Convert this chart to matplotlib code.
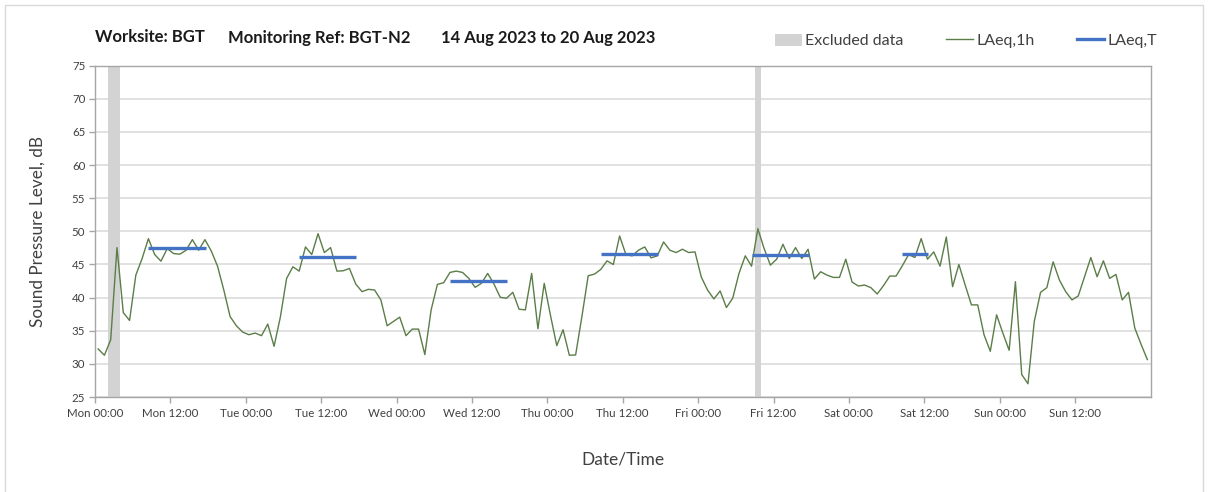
import matplotlib
matplotlib.use("Agg")
import matplotlib.pyplot as plt
from matplotlib.patches import Rectangle, Patch
from matplotlib.lines import Line2D
import numpy as np

plt.rcParams['font.family'] = ['Lato', 'DejaVu Sans']

# ---- data ----
laeq_1h = [
    # Mon
    32.25, 31.3, 33.65, 47.55, 37.75, 36.55, 43.4, 45.9, 48.9, 46.5, 45.5, 47.4,
    46.65, 46.55, 47.15, 48.75, 47.15, 48.75, 47.05, 44.75, 41.15, 37.15, 35.75, 34.8,
    # Tue
    34.4, 34.65, 34.25, 36.0, 32.65, 37.05, 42.9, 44.65, 44.0, 47.65, 46.5, 49.65,
    46.8, 47.55, 44.0, 44.05, 44.4, 42.05, 40.9, 41.25, 41.15, 39.65, 35.75, 36.4,
    # Wed
    37.05, 34.25, 35.25, 35.25, 31.4, 38.15, 42.0, 42.25, 43.8, 44.0, 43.8, 42.9,
    41.55, 42.15, 43.65, 42.05, 40.05, 39.9, 40.8, 38.25, 38.15, 43.65, 35.3, 42.15,
    # Thu
    37.3, 32.75, 35.15, 31.3, 31.35, 37.15, 43.3, 43.55, 44.25, 45.55, 45.0, 49.3,
    46.5, 46.3, 47.15, 47.65, 46.0, 46.3, 48.4, 47.15, 46.8, 47.3, 46.8, 46.9,
    # Fri
    43.1, 41.15, 39.8, 41.0, 38.5, 39.9, 43.65, 46.3, 44.75, 50.4, 47.4, 44.9,
    45.8, 48.05, 45.9, 47.55, 45.9, 47.3, 42.8, 43.9, 43.4, 43.05, 43.05, 45.8,
    # Sat
    42.35, 41.75, 41.9, 41.5, 40.55, 41.8, 43.25, 43.25, 44.8, 46.5, 46.05, 48.9,
    45.8, 46.9, 44.75, 49.15, 41.65, 45.0, 41.9, 38.9, 38.9, 34.4, 31.9, 37.4,
    # Sun
    34.65, 32.05, 42.4, 28.4, 27.0, 36.4, 40.8, 41.5, 45.4, 42.65, 40.9, 39.65,
    40.25, 43.15, 46.05, 43.15, 45.55, 42.9, 43.5, 39.65, 40.8, 35.4, 32.95, 30.65,
]
hours = list(range(len(laeq_1h)))

period_start = [8, 32, 56, 80, 104, 128]
period_end = [17, 41, 65, 89, 113, 132]
period_level = [47.55, 46.15, 42.55, 46.65, 46.5, 46.65]

excl_start = [2, 105]
excl_end = [4, 106]

tick_hours = [0, 12, 24, 36, 48, 60, 72, 84, 96, 108, 120, 132, 144, 156]
tick_labels = ["Mon 00:00", "Mon 12:00", "Tue 00:00", "Tue 12:00", "Wed 00:00",
               "Wed 12:00", "Thu 00:00", "Thu 12:00", "Fri 00:00", "Fri 12:00",
               "Sat 00:00", "Sat 12:00", "Sun 00:00", "Sun 12:00"]

# ---- style ----
W, H = 1208, 492
fig = plt.figure(figsize=(W / 100, H / 100), dpi=100)
ax = fig.add_axes([95 / W, 1 - 397 / H, (1150.5 - 95) / W, (397 - 65.7) / H])

text_col = "#404040"
grid_col = "#d9d9d9"
spine_col = "#a6a6a6"
green = "#5b7d48"
blue = "#4472c4"
excl_col = "#d3d3d3"

# excluded data bands
for s, e in zip(excl_start, excl_end):
    ax.axvspan(s, e, color=excl_col, lw=0, zorder=1)

# hourly line (points at category centres)
x = np.array(hours) + 0.5
ax.plot(x, laeq_1h, color=green, lw=1.0, zorder=3)

# period LAeq,T
for s, e, v in zip(period_start, period_end, period_level):
    ax.plot([s + 0.5, e + 0.6], [v, v], color=blue, lw=2.4,
            solid_capstyle='butt', zorder=4)

ax.set_xlim(0, 168)
ax.set_ylim(25, 75)
ax.set_yticks(range(25, 80, 5))
ax.set_xticks(tick_hours)
ax.set_xticklabels(tick_labels)
ax.set_xticks(range(24, 168, 24), minor=True)

ax.grid(axis='y', which='major', color=grid_col, lw=1.1, zorder=0)
ax.grid(axis='x', which='minor', color=grid_col, lw=1.1, zorder=0)
ax.set_axisbelow(True)

for sp in ax.spines.values():
    sp.set_color(spine_col)
    sp.set_linewidth(1.0)

ax.tick_params(axis='both', which='major', colors=spine_col, labelcolor=text_col,
               labelsize=8.3, length=4, width=1.0)
ax.tick_params(axis='x', which='minor', length=0)
ax.tick_params(axis='y', pad=3)
ax.tick_params(axis='x', pad=4)

ax.set_ylabel("Sound Pressure Level, dB", fontsize=12.3, color=text_col, labelpad=19)
ax.set_xlabel("Date/Time", fontsize=12.5, color=text_col, labelpad=23)

# title pieces
ty = 1 - 37.5 / H
fig.text(95 / W, ty, "Worksite: BGT", fontsize=12, fontweight='bold',
         color="#1a1a1a", va='center', ha='left')
fig.text(228 / W, ty, "Monitoring Ref: BGT-N2", fontsize=12, fontweight='bold',
         color="#1a1a1a", va='center', ha='left')
fig.text(441 / W, ty, "14 Aug 2023 to 20 Aug 2023", fontsize=12, fontweight='bold',
         color="#1a1a1a", va='center', ha='left')

# legend
handles = [Patch(facecolor=excl_col, edgecolor='none'),
           Line2D([], [], color=green, lw=1.0),
           Line2D([], [], color=blue, lw=2.4)]
labels = ["Excluded data", "LAeq,1h", "LAeq,T"]
fig.legend(handles, labels, loc='center right', bbox_to_anchor=(1157 / W, 1 - 41 / H),
           ncol=3, frameon=False, fontsize=11.5, labelcolor=text_col,
           handlelength=1.7, handleheight=0.8, handletextpad=0.2, columnspacing=2.65,
           borderpad=0, borderaxespad=0)

# figure border
fig.patches.append(Rectangle((5 / W, -0.05), (1203 - 5) / W, 1.05 - 4.5 / H,
                             transform=fig.transFigure, fill=False,
                             edgecolor="#d9d9d9", lw=1.0))

fig.savefig("out.png", dpi=100, facecolor='white')
